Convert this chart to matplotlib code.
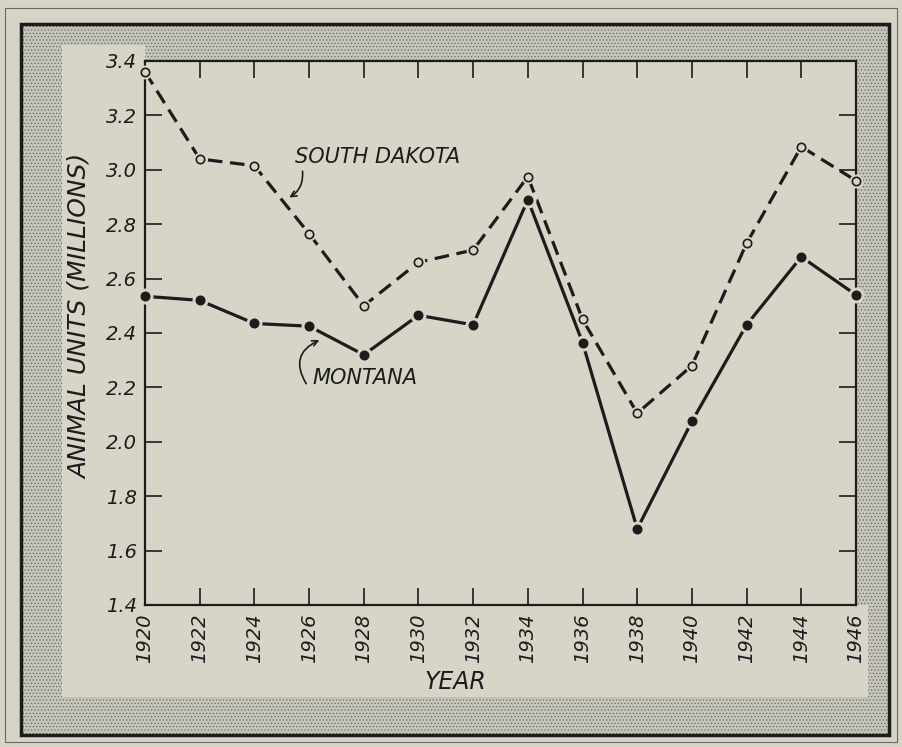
import matplotlib.pyplot as plt
from matplotlib.patches import Rectangle, Polygon

years = [1920, 1922, 1924, 1926, 1928, 1930, 1932, 1934, 1936, 1938, 1940, 1942, 1944, 1946]
south_dakota = [3.36, 3.04, 3.015, 2.765, 2.50, 2.66, 2.705, 2.975, 2.45, 2.105, 2.28, 2.73, 3.085, 2.96]
montana = [2.535, 2.52, 2.435, 2.425, 2.32, 2.465, 2.43, 2.89, 2.365, 1.68, 2.075, 2.43, 2.68, 2.54]
y_ticks = [1.4, 1.6, 1.8, 2.0, 2.2, 2.4, 2.6, 2.8, 3.0, 3.2, 3.4]

ink = '#1c1c1c'
paper = '#d6d4c7'
panel = '#d7d5c8'
stipple = '#c6c5bb'

plt.rcParams['font.family'] = 'DejaVu Sans'
plt.rcParams['hatch.color'] = '#6a6a63'
plt.rcParams['hatch.linewidth'] = 0.5
plt.rcParams['lines.scale_dashes'] = False

fig = plt.figure(figsize=(9.02, 7.47), dpi=100, facecolor=paper)

# frame drawn in pixel coordinates
bg = fig.add_axes([0, 0, 1, 1], zorder=0)
bg.set_xlim(0, 902)
bg.set_ylim(747, 0)
bg.axis('off')
bg.add_patch(Rectangle((5, 8), 892, 734, fill=False, edgecolor='#6a6a64', lw=0.8))
bg.add_patch(Rectangle((21, 24), 868, 711, facecolor=stipple, edgecolor='#6a6a63',
                       hatch='.....', lw=0))
bg.add_patch(Rectangle((21, 24), 868, 711, fill=False, edgecolor=ink, lw=2.5))
bg.add_patch(Polygon([(62, 45), (145, 45), (145, 61), (856, 61), (856, 605),
                      (868, 605), (868, 697), (62, 697)],
                     closed=True, facecolor=panel, edgecolor='none'))

ax = fig.add_axes([145 / 902, 1 - 605 / 747, 711 / 902, 544 / 747], zorder=1)
ax.set_facecolor(panel)

# South Dakota: dashed line, open circles
ax.plot(years, south_dakota, color=ink, lw=2.3, dashes=(10.5, 5.5), zorder=2,
        solid_capstyle='butt', dash_capstyle='butt')
ax.plot(years, south_dakota, ls='none', marker='o', ms=9, mfc=panel, mec=panel,
        zorder=3, clip_on=False)
ax.plot(years, south_dakota, ls='none', marker='o', ms=6, mfc=panel, mec=ink,
        mew=1.2, zorder=5, clip_on=False)

# Montana: solid line, filled circles
ax.plot(years, montana, color=ink, lw=2.3, zorder=2, solid_capstyle='butt')
ax.plot(years, montana, ls='none', marker='o', ms=10.5, mfc=panel, mec=panel,
        zorder=3, clip_on=False)
ax.plot(years, montana, ls='none', marker='o', ms=6.2, mfc=ink, mec=ink,
        zorder=4, clip_on=False)

ax.set_xlim(1920, 1946)
ax.set_ylim(1.4, 3.4)
ax.set_xticks(years)
ax.set_xticklabels([str(y) for y in years], rotation=90, fontsize=14,
                   style='oblique', color=ink)
ax.set_yticks(y_ticks)
ax.set_yticklabels(['%.1f' % v for v in y_ticks], fontsize=14,
                   style='oblique', color=ink)
ax.tick_params(direction='in', length=12, width=1.2, color=ink, pad=6,
               top=True, right=True)
for s in ax.spines.values():
    s.set_linewidth(1.6)
    s.set_color(ink)

ax.set_xlabel('YEAR', fontsize=17, style='oblique', color=ink)
ax.xaxis.set_label_coords(0.436, -0.1415)
ax.xaxis.label.set_va('center')
ax.set_ylabel('ANIMAL UNITS (MILLIONS)', fontsize=18, style='oblique', color=ink)
ax.yaxis.set_label_coords(-0.0914, 0.531)
ax.yaxis.label.set_va('center')

# series labels with curved pointers
ax.text(1925.49, 3.047, 'SOUTH DAKOTA', fontsize=15, style='oblique', color=ink,
        ha='left', va='center')
ax.annotate('', xy=(1925.19, 2.893), xytext=(1925.75, 3.005),
            arrowprops=dict(arrowstyle='->', color=ink, lw=1.2,
                            connectionstyle='arc3,rad=-0.35'))
ax.text(1926.14, 2.235, 'MONTANA', fontsize=15, style='oblique', color=ink,
        ha='left', va='center')
ax.annotate('', xy=(1926.47, 2.378), xytext=(1925.95, 2.205),
            arrowprops=dict(arrowstyle='->', color=ink, lw=1.2,
                            connectionstyle='arc3,rad=-0.6'))

fig.savefig('out.png', dpi=100, facecolor=paper)
